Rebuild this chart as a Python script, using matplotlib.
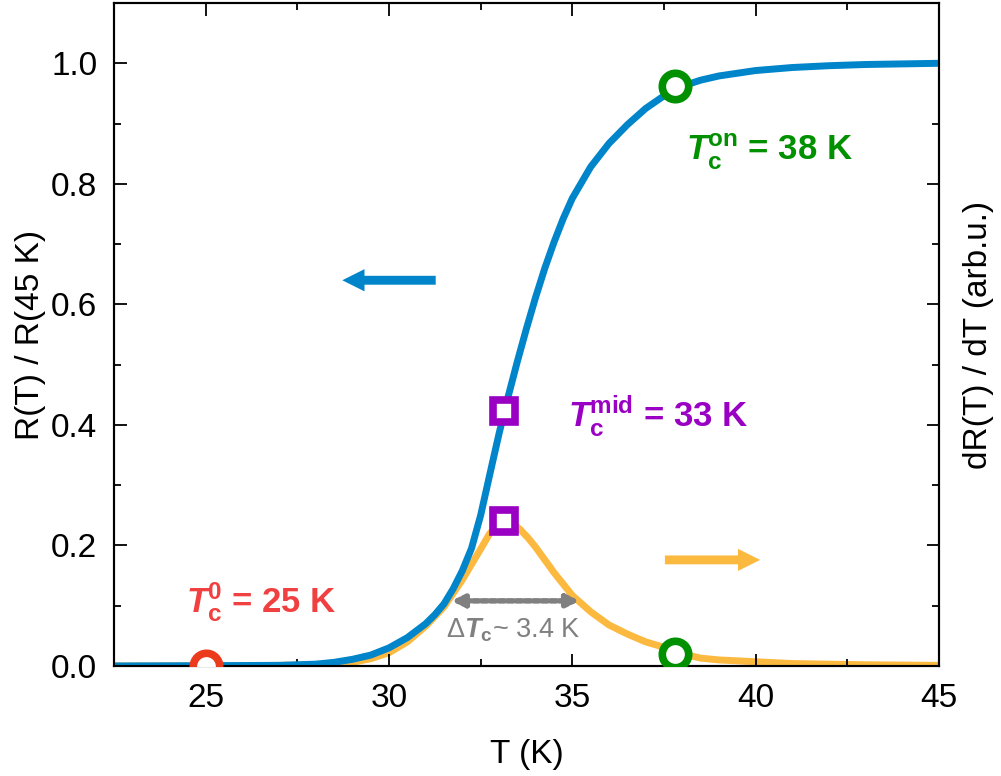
import numpy as np
import matplotlib
matplotlib.use("Agg")
import matplotlib.pyplot as plt

plt.rcParams['font.family'] = ['Liberation Sans', 'DejaVu Sans']
plt.rcParams['mathtext.fontset'] = 'custom'
plt.rcParams['mathtext.rm'] = 'Liberation Sans'
plt.rcParams['mathtext.it'] = 'Liberation Sans:italic'
plt.rcParams['mathtext.bf'] = 'Liberation Sans:bold'
plt.rcParams['mathtext.bfit'] = 'Liberation Sans:italic:bold'

# R(T)/R(45 K)
T_R = [22.5, 25, 27, 28, 28.5, 29, 29.5, 30, 30.5, 31, 31.25, 31.5, 31.75, 32,
       32.25, 32.5, 32.75, 33, 33.25, 33.5, 33.75, 34, 34.25, 34.5, 34.75, 35,
       35.5, 36, 36.5, 37, 37.5, 38, 38.5, 39, 40, 41, 42, 43, 44, 45]
R = [0.0, 0.0005, 0.001, 0.003, 0.006, 0.011, 0.018, 0.03, 0.047, 0.07, 0.085,
     0.103, 0.128, 0.158, 0.195, 0.25, 0.318, 0.385, 0.447, 0.505, 0.56, 0.612,
     0.66, 0.703, 0.742, 0.776, 0.828, 0.867, 0.898, 0.925, 0.946, 0.962, 0.972,
     0.979, 0.988, 0.993, 0.996, 0.998, 0.999, 1.0]

# dR/dT (arb.u.)
T_D = [22.5, 25, 27, 28, 28.5, 29, 29.5, 30, 30.5, 31, 31.5, 32, 32.5, 32.75, 33,
       33.2, 33.4, 33.6, 33.8, 34, 34.5, 35, 35.5, 36, 36.5, 37, 37.5, 38, 38.5,
       39, 40, 41, 42, 43, 45]
dR = [0.0, 0.0, 0.001, 0.002, 0.003, 0.006, 0.012, 0.022, 0.04, 0.066, 0.098,
      0.143, 0.194, 0.22, 0.235, 0.24, 0.236, 0.225, 0.212, 0.197, 0.155, 0.117,
      0.09, 0.068, 0.053, 0.04, 0.031, 0.02, 0.013, 0.01, 0.007, 0.004, 0.003,
      0.002, 0.001]

# characteristic points
Tc0 = (25.0, 0.0)
Tmid_R = (33.15, 0.423)
Tmid_D = (33.15, 0.24)
Ton_R = (37.8, 0.962)
Ton_D = (37.8, 0.02)

blue = '#0085ca'
orange = '#fcb940'
green = '#009000'
purple = '#9900c4'
red = '#f04040'
grey = '#808080'

fig = plt.figure(figsize=(10.01, 7.76), dpi=100)
ax = fig.add_axes([0.1139, 0.1418, 0.8241, 0.8543])
ax2 = ax.twinx()
ax.set_zorder(ax2.get_zorder() + 1)
ax.patch.set_visible(False)

ax2.plot(T_D, dR, color=orange, lw=5, solid_joinstyle='round')
ax.plot(T_R, R, color=blue, lw=5, solid_joinstyle='round')

ax.plot(*Tc0, 'o', ms=19, mfc='white', mec='#ec3a1c', mew=5.5, zorder=5)
ax.plot(*Ton_R, 'o', ms=19, mfc='white', mec=green, mew=5.5, zorder=5, clip_on=False)
ax.plot(*Ton_D, 'o', ms=19, mfc='white', mec=green, mew=5.5, zorder=5)
ax.plot(*Tmid_R, 's', ms=16.5, mfc='white', mec=purple, mew=5.5, zorder=5)
ax.plot(*Tmid_D, 's', ms=16.5, mfc='white', mec=purple, mew=5.5, zorder=5)

# arrows showing which axis each curve belongs to
ax.annotate('', xy=(28.65, 0.640), xytext=(31.35, 0.640),
            arrowprops=dict(arrowstyle='simple,head_length=0.8,head_width=0.8,tail_width=0.32',
                            mutation_scale=20, color=blue, lw=0))
ax.annotate('', xy=(40.2, 0.176), xytext=(37.45, 0.176),
            arrowprops=dict(arrowstyle='simple,head_length=0.8,head_width=0.8,tail_width=0.32',
                            mutation_scale=20, color=orange, lw=0))

# width of transition
ax.annotate('', xy=(31.7, 0.108), xytext=(35.2, 0.108),
            arrowprops=dict(arrowstyle='<|-|>,head_length=0.7,head_width=0.35',
                            color=grey, lw=4, ls=(0, (1, 0.55)), shrinkA=0, shrinkB=0))

ax.text(24.45, 0.0896, r'$\mathbfit{T}_\mathbf{c}^\mathbf{0}$ = 25 K', color=red,
        fontsize=25, fontweight='bold', va='baseline', ha='left')
ax.text(34.87, 0.398, r'$\mathbfit{T}_\mathbf{c}^\mathbf{mid}$ = 33 K', color=purple,
        fontsize=25, fontweight='bold', va='baseline', ha='left')
ax.text(38.1, 0.839, r'$\mathbfit{T}_\mathbf{c}^\mathbf{on}$ = 38 K', color=green,
        fontsize=25, fontweight='bold', va='baseline', ha='left')
ax.text(31.55, 0.0464, r'$\Delta\mathbfit{T}_\mathbf{c}$~ 3.4 K', color=grey,
        fontsize=19.5, va='baseline', ha='left')

ax.set_xlim(22.5, 45)
ax.set_ylim(0, 1.1)
ax2.set_ylim(0, 1.1)
ax.set_xticks([25, 30, 35, 40, 45])
ax.set_xticks(np.arange(22.5, 45.1, 2.5), minor=True)
ax.set_yticks([0.0, 0.2, 0.4, 0.6, 0.8, 1.0])
ax.set_yticks(np.arange(0.1, 1.1, 0.2), minor=True)
ax.set_yticklabels(['0.0', '0.2', '0.4', '0.6', '0.8', '1.0'])
ax2.set_yticks([0.0, 0.2, 0.4, 0.6, 0.8, 1.0])
ax2.set_yticks(np.arange(0.1, 1.1, 0.2), minor=True)
ax2.set_yticklabels([])

ax.tick_params(which='both', direction='in', top=True, labelsize=24, width=1.3, pad=12)
ax.tick_params(which='major', length=9)
ax.tick_params(which='minor', length=5)
ax2.tick_params(which='both', direction='in', width=1.3)
ax2.tick_params(which='major', length=9)
ax2.tick_params(which='minor', length=5)

for a in (ax, ax2):
    for s in a.spines.values():
        s.set_linewidth(1.5)

ax.set_xlabel('T (K)', fontsize=24, labelpad=18)
ax.set_ylabel('R(T) / R(45 K)', fontsize=24, labelpad=4)
ax2.set_ylabel('dR(T) / dT (arb.u.)', fontsize=24, labelpad=14)

fig.savefig('out.png', dpi=100)
